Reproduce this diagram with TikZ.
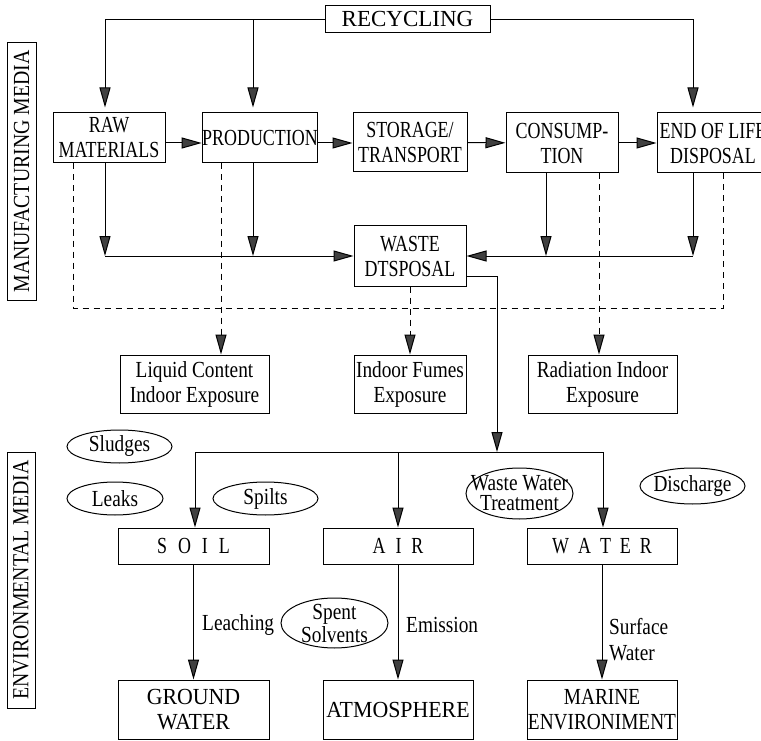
\documentclass[tikz,border=0pt]{standalone}
\usepackage{fontspec}
\setmainfont{Liberation Serif}[FakeStretch=0.78]
\newfontfamily\fsB{Liberation Serif}[FakeStretch=0.84]
\newfontfamily\fsA{Liberation Serif}[FakeStretch=0.95]
\newfontfamily\fsC{Liberation Serif}[FakeStretch=1.0]
\newfontfamily\fsV{Liberation Serif}[FakeStretch=0.86]
\usetikzlibrary{arrows.meta,shapes.geometric}
\begin{document}
\begin{tikzpicture}[x=1pt,y=-1pt,
  every node/.style={font=\fontsize{23}{25}\selectfont},
  lc/.style={font=\fsB\fontsize{23}{25}\selectfont},
  box/.style={draw, line width=1pt, inner sep=0pt, align=center},
  ell/.style={draw, ellipse, line width=1pt, inner sep=0pt},
  arr/.style={line width=1pt, -{Triangle[length=20pt,width=11pt,fill=black!75]}},
  dsh/.style={line width=1pt, dash pattern=on 6pt off 5pt},
  lbl/.style={inner sep=0pt, align=left}
]
\useasboundingbox (0,0) rectangle (761,741);

% side labels
\node[box, rotate=90, minimum width=257pt, minimum height=29pt, font=\fsV\fontsize{23}{25}\selectfont] (mm) at (21.5,171.5) {MANUFACTURING MEDIA};
\node[box, rotate=90, minimum width=256pt, minimum height=28pt, font=\fsV\fontsize{23}{25}\selectfont] (em) at (21,580) {ENVIRONMENTAL MEDIA};

% top row
\node[box, minimum width=165pt, minimum height=27pt, font=\fsC\fontsize{23}{25}\selectfont] (rec) at (407.5,19.5) {RECYCLING};
\node[box, minimum width=112pt, minimum height=50pt] (raw) at (109,138) {RAW\\MATERIALS};
\node[box, minimum width=112pt, minimum height=50pt] (prod) at (260,138) {PRODUCTION};
\node[box, minimum width=114pt, minimum height=59pt] (stor) at (410,142.5) {STORAGE/\\TRANSPORT};
\node[box, minimum width=112pt, minimum height=60pt] (cons) at (562,143) {CONSUMP-\\TION};
\node[box, minimum width=112pt, minimum height=60pt] (end) at (713,143) {END OF LIFE\\DISPOSAL};
\node[box, minimum width=112pt, minimum height=60pt] (waste) at (410,256) {WASTE\\DTSPOSAL};

% exposure row
\node[box, lc, minimum width=149pt, minimum height=58pt] (liq) at (194.5,384) {Liquid Content\\Indoor Exposure};
\node[box, lc, minimum width=112pt, minimum height=58pt] (fumes) at (410,384) {Indoor Fumes\\Exposure};
\node[box, lc, minimum width=149pt, minimum height=58pt] (rad) at (602.5,384) {Radiation Indoor\\Exposure};

% environmental media
\node[box, minimum width=151pt, minimum height=36pt] (soil) at (193.5,546) {S\hspace{11pt}O\hspace{11pt}I\hspace{11pt}L};
\node[box, minimum width=150pt, minimum height=36pt] (air) at (398,546) {A\hspace{10pt}I\hspace{10pt}R};
\node[box, minimum width=150pt, minimum height=36pt] (water) at (602,546) {W\hspace{9pt}A\hspace{9pt}T\hspace{9pt}E\hspace{9pt}R};
\node[box, minimum width=151pt, minimum height=59pt, font=\fsA\fontsize{23}{25}\selectfont] (ground) at (193.5,709.5) {GROUND\\WATER};
\node[box, minimum width=150pt, minimum height=59pt, font=\fsA\fontsize{23}{25}\selectfont] (atmo) at (398,709.5) {ATMOSPHERE};
\node[box, minimum width=150pt, minimum height=59pt, font=\fsB\fontsize{23}{25}\selectfont] (marine) at (602,709.5) {MARINE\\ENVIRONIMENT};

% ellipses
\node[ell, minimum width=105pt, minimum height=33pt] (sludge) at (119.5,446.5) {};
\node[lc] (sludget) at (sludge) {Sludges};
\node[ell, minimum width=96pt, minimum height=33pt] (leaks) at (115,498.5) {};
\node[lc] (leakst) at (leaks) {Leaks};
\node[ell, minimum width=105pt, minimum height=33pt] (spilts) at (265.5,498.5) {};
\node[lc] (spiltst) at (spilts) {Spilts};
\node[ell, minimum width=107pt, minimum height=50pt] (spent) at (334.5,623) {};
\node[align=center, font=\fsB\fontsize{23}{23}\selectfont] (spentt) at (spent) {Spent\\Solvents};
\node[ell, minimum width=107pt, minimum height=51pt] (wwt) at (519.5,493.5) {};
\node[align=center, font=\fsB\fontsize{23}{20}\selectfont] (wwtt) at (wwt) {Waste Water\\Treatment};
\node[ell, minimum width=105pt, minimum height=36pt] (disch) at (692.5,486) {};
\node[lc] (discht) at (disch) {Discharge};

% recycling arrows
\coordinate (rp) at (253,19.5);
\draw[arr, shorten >=5pt] (rec.west) -| ([xshift=-4pt]raw.north);
\draw[arr, shorten >=5pt] (rp) -- (rp |- prod.north);
\draw[arr, shorten >=5pt] (rec.east) -| ([xshift=-20pt]end.north);

% row arrows
\draw[arr] ([yshift=-5pt]raw.east) -- ([yshift=-5pt]prod.west);
\draw[arr] ([yshift=-5pt]prod.east) -- ([yshift=-0.5pt]stor.west);
\draw[arr] (stor) -- (cons);
\draw[arr] (cons) -- (end);

% to waste disposal
\coordinate (a1) at (105,256);
\coordinate (a2) at (253,256);
\coordinate (a3) at (546,256);
\coordinate (a4) at (693,256);
\draw[arr] (raw.south -| a1) -- (a1);
\draw[arr] (a1) -- (waste.west);
\draw[arr] (prod.south -| a2) -- (a2);
\draw[arr] (cons.south -| a3) -- (a3);
\draw[arr] (end.south -| a4) -- (a4);
\draw[arr] (a4) -- (waste.east);

% dashed exposure lines
\coordinate (d1) at (73,308);
\coordinate (d2) at (221,308);
\coordinate (d4) at (599,308);
\coordinate (d5) at (723,308);
\draw[dsh] (raw.south -| d1) -- (d1) -- (d5) -- (end.south -| d5);
\draw[arr,dsh] (prod.south -| d2) -- (d2 |- liq.north);
\draw[arr,dsh] (waste.south) -- (fumes.north);
\draw[arr,dsh] (cons.south -| d4) -- (d4 |- rad.north);

% waste to environment
\coordinate (w1) at (497,276);
\coordinate (w2) at (497,452);
\coordinate (b1) at (195,452);
\coordinate (b2) at (398,452);
\coordinate (b3) at (603,452);
\draw[arr] ([yshift=-20pt]waste.east) -- (w1) -- (w2);
\draw[line width=1pt] (b1) -- (b3);
\draw[arr] (b1) -- (b1 |- soil.north);
\draw[arr] (b2) -- (air.north);
\draw[arr] (b3) -- (b3 |- water.north);

% downward flows
\draw[arr] (soil) -- (ground);
\draw[arr] (air) -- (atmo);
\draw[arr] (water) -- (marine);
\node[lbl, lc, anchor=west] (leach) at (202,625) {Leaching};
\node[lbl, lc, anchor=west] (emis) at (406,625) {Emission};
\node[lbl, anchor=west, font=\fsB\fontsize{23}{26}\selectfont] (surf) at (609,640) {Surface\\Water};
\end{tikzpicture}
\end{document}
